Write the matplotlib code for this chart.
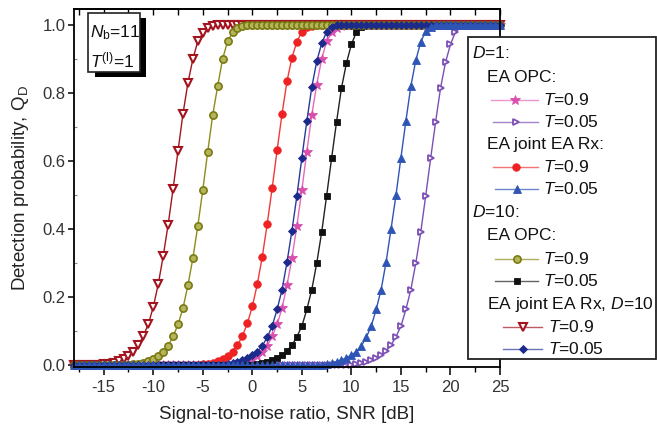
import numpy as np
import matplotlib
matplotlib.use('Agg')
import matplotlib.pyplot as plt
from matplotlib.patches import Rectangle
from matplotlib.lines import Line2D
from matplotlib.ticker import MultipleLocator

plt.rcParams['font.family'] = ['Liberation Sans', 'DejaVu Sans']
plt.rcParams['mathtext.fontset'] = 'custom'
plt.rcParams['mathtext.rm'] = 'Liberation Sans'
plt.rcParams['mathtext.it'] = 'Liberation Sans:italic'
plt.rcParams['mathtext.bf'] = 'Liberation Sans:bold'
plt.rcParams['axes.unicode_minus'] = False

# ---------------- data (SNR grid in dB, 0.5 dB step) ----------------
SNR_START, SNR_STOP, SNR_STEP = -18.0, 25.0, 0.5
snr = np.arange(SNR_START, SNR_STOP + SNR_STEP / 2, SNR_STEP)

# transition part of each curve, starting at *_start; 0 before, 1 after
d1_opc_t09_start = -2.5
d1_opc_t09 = [0.002, 0.003, 0.005, 0.008, 0.012, 0.018, 0.027, 0.038, 0.057, 0.085,
              0.12, 0.168, 0.235, 0.315, 0.41, 0.515, 0.628, 0.735, 0.825, 0.90,
              0.952, 0.978, 0.99, 0.997]

d1_opc_t005_start = 10.0
d1_opc_t005 = [0.002, 0.004, 0.007, 0.011, 0.016, 0.022, 0.03, 0.043, 0.059, 0.084,
               0.115, 0.164, 0.222, 0.30, 0.391, 0.498, 0.608, 0.715, 0.815, 0.890,
               0.943, 0.979, 0.995]

d1_joint_t09_start = -5.5
d1_joint_t09 = [0.002, 0.003, 0.005, 0.008, 0.012, 0.018, 0.027, 0.04, 0.059, 0.086,
                0.123, 0.173, 0.238, 0.318, 0.415, 0.52, 0.632, 0.739, 0.835, 0.904,
                0.951, 0.98, 0.993, 0.998]

d1_joint_t005_start = 7.0
d1_joint_t005 = [0.002, 0.004, 0.007, 0.011, 0.016, 0.022, 0.03, 0.04, 0.057, 0.082,
                 0.115, 0.164, 0.222, 0.303, 0.40, 0.50, 0.61, 0.718, 0.82, 0.896,
                 0.950, 0.982, 0.995]

d10_opc_t09_start = -12.5
d10_opc_t09 = [0.002, 0.003, 0.005, 0.008, 0.012, 0.018, 0.027, 0.038, 0.057, 0.085,
               0.12, 0.168, 0.235, 0.315, 0.41, 0.515, 0.628, 0.735, 0.82, 0.90,
               0.952, 0.978, 0.99, 0.997]

d10_opc_t005_start = 0.0
d10_opc_t005 = [0.002, 0.004, 0.007, 0.011, 0.016, 0.022, 0.03, 0.043, 0.059, 0.084,
                0.115, 0.164, 0.222, 0.30, 0.391, 0.498, 0.608, 0.715, 0.815, 0.888,
                0.943, 0.979, 0.995]

d10_joint_t09_start = -15.5
d10_joint_t09 = [0.002, 0.003, 0.005, 0.008, 0.012, 0.018, 0.028, 0.04, 0.059, 0.086,
                 0.121, 0.171, 0.238, 0.32, 0.413, 0.518, 0.63, 0.739, 0.83, 0.90,
                 0.953, 0.976, 0.99, 0.997]

d10_joint_t005_start = -3.0
d10_joint_t005 = [0.002, 0.004, 0.007, 0.011, 0.016, 0.022, 0.03, 0.04, 0.057, 0.082,
                  0.115, 0.164, 0.222, 0.303, 0.396, 0.498, 0.61, 0.717, 0.817, 0.893,
                  0.946, 0.98, 0.995]

x_ticks = [-15, -10, -5, 0, 5, 10, 15, 20, 25]
y_ticks = [0.0, 0.2, 0.4, 0.6, 0.8, 1.0]


def full_curve(start, vals):
    n0 = int(round((start - SNR_START) / SNR_STEP))
    n1 = len(snr) - n0 - len(vals)
    return np.array([0.0] * n0 + list(vals) + [1.0] * n1)


# ---------------- figure ----------------
W, H = 657, 428
fig = plt.figure(figsize=(W / 100, H / 100), dpi=100)
ax_l, ax_r, ax_t, ax_b = 74, 500, 9, 367
ax = fig.add_axes([ax_l / W, (H - ax_b) / H, (ax_r - ax_l) / W, (ax_b - ax_t) / H])

styles = {
    'd1_opc_t09':    dict(color='#e56abb', marker='*', mfc='#d94fae', mec='#d94fae', ms=7, mew=0.6),
    'd1_opc_t005':   dict(color='#7b4fb5', marker='>', mfc='white', mec='#7b4fb5', ms=5, mew=1.3),
    'd1_joint_t09':  dict(color='#f03a3a', marker='o', mfc='#ee2222', mec='#ee2222', ms=5.4, mew=0.6),
    'd1_joint_t005': dict(color='#2e55b5', marker='^', mfc='#2e55b5', mec='#2e55b5', ms=5.5, mew=0.6),
    'd10_opc_t09':   dict(color='#8c8c1a', marker='o', mfc='#b4b45a', mec='#7a7a12', ms=5.2, mew=1.2),
    'd10_opc_t005':  dict(color='#222222', marker='s', mfc='#111111', mec='#111111', ms=4.6, mew=0.6),
    'd10_joint_t09': dict(color='#a3141e', marker='v', mfc='white', mec='#a3141e', ms=5.5, mew=1.5),
    'd10_joint_t005': dict(color='#2a3a9a', marker='D', mfc='#1c2a8c', mec='#1c2a8c', ms=4.3, mew=0.6),
}

series = [
    ('d1_opc_t09', d1_opc_t09_start, d1_opc_t09),
    ('d1_opc_t005', d1_opc_t005_start, d1_opc_t005),
    ('d1_joint_t09', d1_joint_t09_start, d1_joint_t09),
    ('d10_opc_t005', d10_opc_t005_start, d10_opc_t005),
    ('d10_joint_t09', d10_joint_t09_start, d10_joint_t09),
    ('d10_opc_t09', d10_opc_t09_start, d10_opc_t09),
    ('d10_joint_t005', d10_joint_t005_start, d10_joint_t005),
    ('d1_joint_t005', d1_joint_t005_start, d1_joint_t005),
]

for key, start, vals in series:
    st = styles[key]
    ax.plot(snr, full_curve(start, vals), color=st['color'], lw=1.0, clip_on=False,
            marker=st['marker'], ms=st['ms'], mfc=st['mfc'], mec=st['mec'], mew=st['mew'])

ax.set_xlim(-18, 25)
ax.set_ylim(-0.005, 1.047)
ax.set_xticks(x_ticks)
ax.set_yticks(y_ticks)
ax.set_yticklabels([f'{v:.1f}' for v in y_ticks])
ax.xaxis.set_minor_locator(MultipleLocator(2.5))
ax.yaxis.set_minor_locator(MultipleLocator(0.1))

ax.tick_params(axis='x', which='major', direction='out', length=6, width=1.1,
               labelsize=12, labelcolor='#333333', pad=3)
ax.tick_params(axis='x', which='minor', direction='out', length=3.5, width=1.0)
ax.tick_params(axis='y', which='major', direction='out', length=4, width=1.1,
               labelsize=12, labelcolor='#333333', pad=2)
ax.tick_params(axis='y', which='minor', direction='in', length=2, width=0.8, color='#888888')

top = ax.secondary_xaxis('top')
top.set_xticks(x_ticks)
top.xaxis.set_minor_locator(MultipleLocator(2.5))
top.tick_params(which='both', direction='in', length=4, width=1.0, labeltop=False)

for sp in ax.spines.values():
    sp.set_linewidth(1.3)
top.spines['top'].set_linewidth(1.3)

ax.set_xlabel('Signal-to-noise ratio, SNR [dB]', fontsize=13.5, color='#222222', labelpad=8)
ax.set_ylabel(r'Detection probability, Q$_\mathrm{D}$', fontsize=13.5, color='#222222', labelpad=8)

# ---------------- overlay (legend and info box) in pixel coordinates ----------------
ov = fig.add_axes([0, 0, 1, 1], zorder=10)
ov.set_xlim(0, W)
ov.set_ylim(H, 0)
ov.axis('off')
ov.patch.set_alpha(0)

# info box with shadow
ov.add_patch(Rectangle((95, 18), 51, 59, fc='black', ec='none'))
ov.add_patch(Rectangle((88, 13), 52, 59, fc='white', ec='#222222', lw=1.2))
ov.text(90.5, 33, r'$N_\mathrm{b}$=11', fontsize=12.5, va='center', ha='left', color='#111111')
ov.text(90.5, 60, r'$T^{(\mathrm{l})}$=1', fontsize=12.5, va='center', ha='left', color='#111111')

# legend box
ov.add_patch(Rectangle((468, 37), 188.3, 322, fc='white', ec='#222222', lw=1.3))
fs = 12.5
tc = '#111111'


def leg_text(x, y, s):
    ov.text(x, y, s, fontsize=fs, va='center', ha='left', color=tc)


def leg_entry(key, y, x0, x1, xt, s):
    st = styles[key]
    ov.add_line(Line2D([x0, x1], [y, y], color=st['color'], lw=1.0, alpha=0.7))
    ov.add_line(Line2D([(x0 + x1) / 2], [y], marker=st['marker'], ms=st['ms'],
                       mfc=st['mfc'], mec=st['mec'], mew=st['mew'], ls='none'))
    leg_text(xt, y, s)


leg_text(472, 53, r'$D$=1:')
leg_text(487, 77, 'EA OPC:')
leg_entry('d1_opc_t09', 100, 491, 538, 543, r'$T$=0.9')
leg_entry('d1_opc_t005', 122, 493, 538, 543, r'$T$=0.05')
leg_text(487, 145, 'EA joint EA Rx:')
leg_entry('d1_joint_t09', 167, 493, 538, 543, r'$T$=0.9')
leg_entry('d1_joint_t005', 189, 495, 538, 543, r'$T$=0.05')
leg_text(472, 212, r'$D$=10:')
leg_text(487, 235, 'EA OPC:')
leg_entry('d10_opc_t09', 259, 495, 538, 543, r'$T$=0.9')
leg_entry('d10_opc_t005', 281, 495, 538, 543, r'$T$=0.05')
leg_text(487, 304, r'EA joint EA Rx, $D$=10')
leg_entry('d10_joint_t09', 327, 503, 542, 548, r'$T$=0.9')
leg_entry('d10_joint_t005', 349, 503, 542, 548, r'$T$=0.05')

fig.savefig('out.png', dpi=100)
